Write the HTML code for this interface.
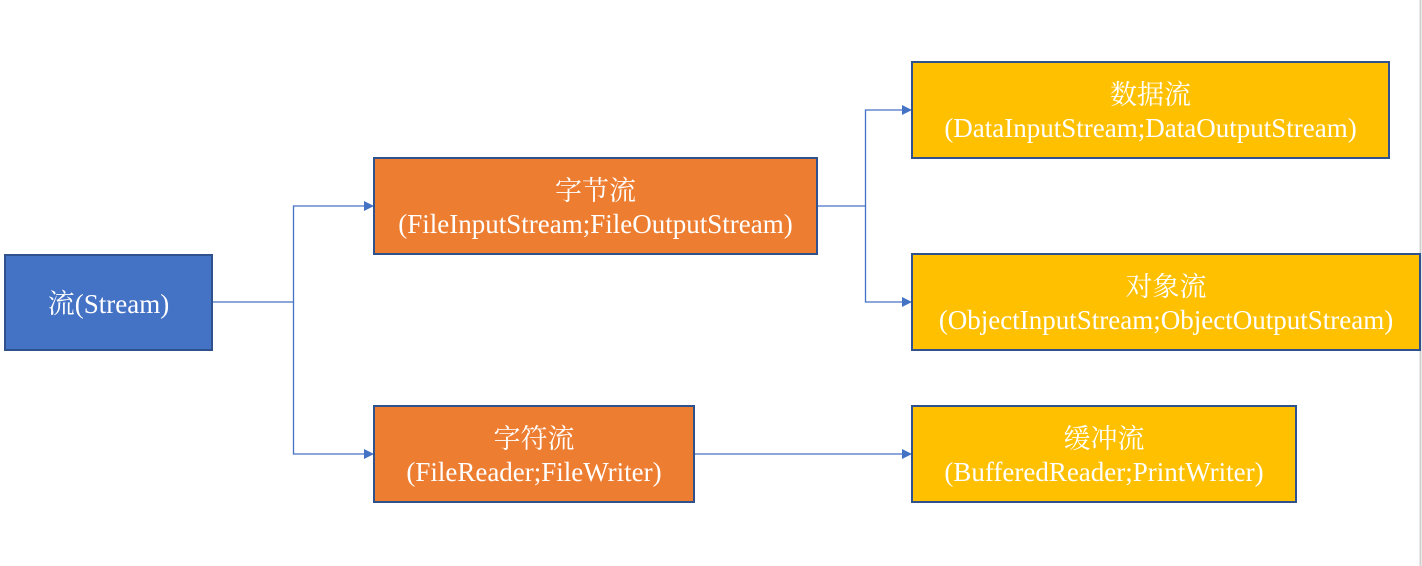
<!DOCTYPE html>
<html><head><meta charset="utf-8"><style>
body{margin:0;width:1422px;height:566px;background:#fff;position:relative;overflow:hidden;font-family:"Liberation Serif","Noto Serif CJK SC",serif;}
.b{position:absolute;box-sizing:border-box;border:2px solid #2F528F;color:#fff;font-size:27px;line-height:33px;padding-top:4px;display:flex;flex-direction:column;justify-content:center;align-items:center;text-align:center;white-space:nowrap;}
.o{background:#ED7D31}.y{background:#FFC000}.bl{background:#4472C4}
</style></head><body>
<svg width="1422" height="566" style="position:absolute;left:0;top:0">
<defs><marker id="a" markerWidth="10" markerHeight="10" refX="9" refY="5" orient="auto" markerUnits="userSpaceOnUse"><path d="M0,0 L10,5 L0,10z" fill="#4472C4"/></marker></defs>
<g stroke="#4472C4" stroke-width="1.3" fill="none">
<path d="M212,302 H293.5 V206 H373" marker-end="url(#a)"/>
<path d="M293.5,302 V454 H373" marker-end="url(#a)"/>
<path d="M817,206 H865.5 V110 H911" marker-end="url(#a)"/>
<path d="M865.5,206 V302 H911" marker-end="url(#a)"/>
<path d="M694,454 H911" marker-end="url(#a)"/>
</g>
<line x1="1420.5" y1="0" x2="1420.5" y2="566" stroke="#d0d0d0" stroke-width="2"/>
</svg>
<div class="b bl" style="left:4px;top:254px;width:209px;height:97px">流(Stream)</div>
<div class="b o" style="left:373px;top:157px;width:445px;height:98px"><div>字节流</div><div>(FileInputStream;FileOutputStream)</div></div>
<div class="b o" style="left:373px;top:405px;width:322px;height:98px"><div>字符流</div><div>(FileReader;FileWriter)</div></div>
<div class="b y" style="left:911px;top:61px;width:479px;height:98px"><div>数据流</div><div>(DataInputStream;DataOutputStream)</div></div>
<div class="b y" style="left:911px;top:253px;width:510px;height:98px"><div>对象流</div><div>(ObjectInputStream;ObjectOutputStream)</div></div>
<div class="b y" style="left:911px;top:405px;width:386px;height:98px"><div>缓冲流</div><div>(BufferedReader;PrintWriter)</div></div>
</body></html>
